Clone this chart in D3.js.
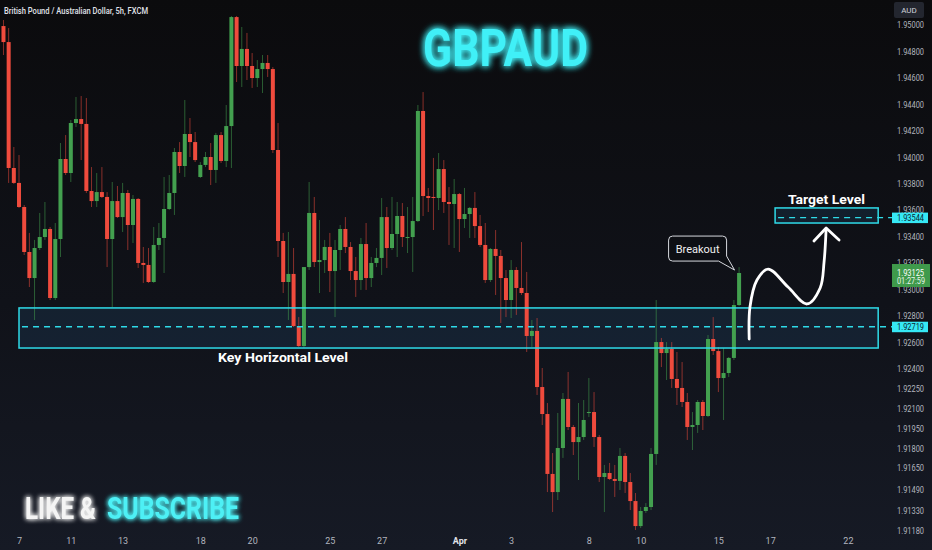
<!DOCTYPE html>
<html>
<head>
<meta charset="utf-8">
<script src="https://cdn.jsdelivr.net/npm/d3@7"></script>
<style>
html, body { margin: 0; padding: 0; background: #0e0f13; }
svg { display: block; }
</style>
</head>
<body>
<svg id="chart" width="932" height="550"></svg>
<script>
// GBPAUD 5h candles
var opens = [1.94992,1.94871,1.93919,1.93806,1.93624,1.93284,1.93087,1.93314,1.93397,1.93458,
	1.92936,1.93382,1.93987,1.93881,1.94259,1.94289,1.94252,1.93745,1.93669,1.93737,
	1.93700,1.93382,1.93669,1.93548,1.93730,1.93488,1.93685,1.93201,1.93186,1.93057,
	1.93337,1.93390,1.93609,1.93730,1.94040,1.93934,1.94176,1.94115,1.93851,1.93942,
	1.94002,1.93904,1.94168,1.93972,1.94236,1.95060,1.94690,1.94819,1.94690,1.94599,
	1.94667,1.94713,1.94667,1.94055,1.93367,1.93057,1.93118,1.92724,1.92573,1.93170,
	1.93579,1.93208,1.93223,1.93322,1.93140,1.93299,1.93458,1.93322,1.93140,1.93072,
	1.93344,1.93087,1.93201,1.93239,1.93548,1.93314,1.93420,1.93556,1.93390,1.93397,
	1.93518,1.94350,1.93707,1.93700,1.93692,1.93911,1.93662,1.93647,1.93722,1.93533,
	1.93571,1.93617,1.93480,1.93337,1.93072,1.93307,1.93254,1.93087,1.92921,1.93148,
	1.93012,1.92974,1.92649,1.92687,1.92263,1.92059,1.91606,1.91469,1.91802,1.92173,
	1.91961,1.91847,1.91885,1.92067,1.92074,1.91885,1.91583,1.91613,1.91568,1.91553,
	1.91742,1.91545,1.91401,1.91212,1.91326,1.91356,1.91757,1.92603,1.92520,1.92551,
	1.92324,1.92256,1.92150,1.91961,1.91976,1.92150,1.92044,1.92626,1.92535,1.92331,
	1.92369,1.92483,1.92883];
var highs = [1.95038,1.94977,1.94078,1.94017,1.93639,1.93428,1.93375,1.93579,1.93662,1.93473,
	1.93503,1.94108,1.94168,1.94282,1.94456,1.94463,1.94448,1.93926,1.93881,1.93926,
	1.93737,1.93813,1.93783,1.93806,1.93753,1.93715,1.93692,1.93322,1.93314,1.93473,
	1.93503,1.93851,1.93866,1.94070,1.94115,1.94433,1.94297,1.94191,1.93964,1.94040,
	1.94108,1.94184,1.94191,1.94395,1.95068,1.95068,1.94985,1.94940,1.94788,1.94735,
	1.94773,1.94773,1.94682,1.94259,1.93428,1.93435,1.93314,1.92792,1.93170,1.93813,
	1.93700,1.93526,1.93375,1.93428,1.93375,1.93488,1.93548,1.93359,1.93246,1.93390,
	1.93503,1.93246,1.93314,1.93692,1.93624,1.93700,1.93662,1.93654,1.93624,1.93700,
	1.94395,1.94493,1.93768,1.93995,1.94032,1.93979,1.93775,1.93836,1.93730,1.93768,
	1.93624,1.93737,1.93564,1.93503,1.93314,1.93450,1.93299,1.93148,1.93223,1.93170,
	1.93359,1.93133,1.92770,1.92785,1.92407,1.92142,1.91764,1.92067,1.92218,1.92377,
	1.91976,1.92142,1.92165,1.92331,1.92225,1.91900,1.91674,1.91689,1.91674,1.91802,
	1.91764,1.91613,1.91462,1.91356,1.91386,1.91802,1.92921,1.92634,1.92603,1.92603,
	1.92528,1.92452,1.92218,1.92074,1.92165,1.92165,1.92656,1.92792,1.92566,1.92558,
	1.92490,1.92921,1.93170];
var lows = [1.94773,1.93806,1.93798,1.93617,1.93261,1.93019,1.92770,1.93299,1.93375,1.92921,
	1.92921,1.93246,1.93866,1.93813,1.94229,1.93979,1.93730,1.93624,1.93624,1.93692,
	1.93170,1.92868,1.93541,1.93435,1.93299,1.93352,1.93163,1.93050,1.93050,1.93050,
	1.93299,1.93125,1.93601,1.93564,1.93881,1.93851,1.94002,1.93964,1.93843,1.93926,
	1.93790,1.93806,1.93957,1.93926,1.93919,1.94569,1.94531,1.94584,1.94524,1.94531,
	1.94486,1.94607,1.94032,1.93246,1.92974,1.92770,1.92717,1.92566,1.92558,1.93148,
	1.93170,1.92974,1.93125,1.92981,1.92792,1.93148,1.93276,1.93072,1.92944,1.92997,
	1.92997,1.93019,1.93170,1.93110,1.93163,1.93299,1.93246,1.93322,1.93276,1.93133,
	1.93511,1.93556,1.93586,1.93450,1.93601,1.93579,1.93337,1.93314,1.93284,1.93465,
	1.93390,1.93390,1.93322,1.93050,1.93057,1.92959,1.92747,1.92792,1.92785,1.92808,
	1.92959,1.92528,1.92566,1.92203,1.91976,1.91469,1.91318,1.91409,1.91727,1.91938,
	1.91749,1.91560,1.91863,1.92036,1.91810,1.91545,1.91318,1.91560,1.91432,1.91485,
	1.91462,1.91333,1.91182,1.91197,1.91311,1.91333,1.91674,1.92414,1.92316,1.92256,
	1.92127,1.92112,1.91863,1.91787,1.91916,1.91938,1.92036,1.92505,1.92225,1.92014,
	1.92339,1.92467,1.92876];
var closes = [1.94871,1.93919,1.93806,1.93624,1.93284,1.93087,1.93314,1.93397,1.93458,1.92936,
	1.93382,1.93987,1.93881,1.94259,1.94289,1.94252,1.93745,1.93669,1.93737,1.93700,
	1.93382,1.93669,1.93548,1.93730,1.93488,1.93685,1.93201,1.93186,1.93057,1.93337,
	1.93390,1.93609,1.93730,1.94040,1.93934,1.94176,1.94115,1.93979,1.93942,1.94002,
	1.93904,1.94168,1.93972,1.94236,1.95060,1.94690,1.94819,1.94690,1.94599,1.94667,
	1.94713,1.94667,1.94055,1.93367,1.93057,1.93118,1.92724,1.92573,1.93170,1.93579,
	1.93208,1.93223,1.93322,1.93140,1.93299,1.93458,1.93322,1.93140,1.93072,1.93344,
	1.93087,1.93201,1.93239,1.93548,1.93314,1.93420,1.93556,1.93397,1.93397,1.93518,
	1.94350,1.93707,1.93692,1.93692,1.93911,1.93662,1.93647,1.93722,1.93533,1.93571,
	1.93617,1.93480,1.93337,1.93072,1.93307,1.93254,1.93087,1.92921,1.93148,1.93012,
	1.92974,1.92649,1.92687,1.92263,1.92059,1.91606,1.91469,1.91802,1.92173,1.91961,
	1.91847,1.91885,1.92014,1.92074,1.91885,1.91583,1.91613,1.91568,1.91553,1.91742,
	1.91545,1.91401,1.91212,1.91326,1.91356,1.91757,1.92603,1.92520,1.92551,1.92324,
	1.92256,1.92150,1.91961,1.91976,1.92150,1.92044,1.92626,1.92535,1.92331,1.92369,
	1.92483,1.92883,1.93125];

// trading days counted from 7 March (weekends skipped), 5 bars a day
var firstBarDay = -0.6;
var barStep = 0.2;

var xTickDays = [0, 2, 4, 7, 9, 12, 14, 17, 19, 22, 24, 27, 29, 32];
var xTickLabels = ["7", "11", "13", "18", "20", "25", "27", "Apr", "3", "8", "10", "15", "17", "22"];
var yTickValues = [1.95, 1.948, 1.946, 1.944, 1.942, 1.94, 1.938, 1.936, 1.934, 1.932, 1.93,
	1.928, 1.926, 1.924, 1.9225, 1.921, 1.9195, 1.918, 1.9165, 1.9149, 1.9133, 1.9118];

var keyLevelPrices = [1.92861, 1.92719, 1.92558];   // top, line, bottom
var keyLevelDays = [0, 33.17];
var targetPrices = [1.93617, 1.93544, 1.93503];
var targetDays = [29.19, 33.17];
var lastPrice = 1.93125;
var countdown = "01:27:59";

var arrowDays = [28.19, 28.22, 28.49, 28.92, 29.69, 30.42, 30.93, 31.08, 31.16];
var arrowPrices = [1.92626, 1.92868, 1.93072, 1.93155, 1.93019, 1.92891, 1.93012, 1.93208, 1.93458];
var arrowHeadDays = [30.69, 31.16, 31.66];
var arrowHeadPrices = [1.93367, 1.93465, 1.93375];

var cyan = "#2fdbe8";
var upColor = "#43a04f";
var downColor = "#ef4b3d";

var svg = d3.select("#chart");
var x = d3.scaleLinear().domain([-0.734, 33.24]).range([0, 880]);
var y = d3.scaleLinear().domain([1.95189, 1.91031]).range([0, 550]);

var defs = svg.append("defs");
var bg = defs.append("linearGradient").attr("id", "bg").attr("x1", 0).attr("y1", 0).attr("x2", 0).attr("y2", 1);
bg.append("stop").attr("offset", "0%").attr("stop-color", "#0b0b0d");
bg.append("stop").attr("offset", "55%").attr("stop-color", "#101219");
bg.append("stop").attr("offset", "100%").attr("stop-color", "#161a25");

function glow(id, dev) {
	var f = defs.append("filter").attr("id", id)
		.attr("x", "-20%").attr("y", "-50%").attr("width", "140%").attr("height", "200%");
	f.append("feGaussianBlur").attr("in", "SourceGraphic").attr("stdDeviation", dev).attr("result", "b");
	var m = f.append("feMerge");
	m.append("feMergeNode").attr("in", "b");
	m.append("feMergeNode").attr("in", "b");
	m.append("feMergeNode").attr("in", "SourceGraphic");
}
glow("glow", 3.5);
glow("glowSoft", 2.5);

svg.append("rect").attr("width", 932).attr("height", 550).attr("fill", "url(#bg)");

// key level zone fill
svg.append("rect")
	.attr("x", x(keyLevelDays[0]))
	.attr("y", y(keyLevelPrices[0]))
	.attr("width", x(keyLevelDays[1]) - x(keyLevelDays[0]))
	.attr("height", y(keyLevelPrices[2]) - y(keyLevelPrices[0]))
	.attr("fill", "rgba(45,110,170,0.16)");

var candles = opens.map(function (o, i) {
	return { day: firstBarDay + i * barStep, open: o, high: highs[i], low: lows[i], close: closes[i] };
});

var bars = svg.append("g").selectAll("g").data(candles).enter().append("g");
bars.append("line")
	.attr("x1", function (d) { return x(d.day); })
	.attr("x2", function (d) { return x(d.day); })
	.attr("y1", function (d) { return y(d.high); })
	.attr("y2", function (d) { return y(d.low); })
	.attr("stroke", function (d) { return d.close >= d.open ? upColor : downColor; })
	.attr("stroke-opacity", 0.55)
	.attr("stroke-width", 1);
bars.append("rect")
	.attr("x", function (d) { return x(d.day) - 2; })
	.attr("width", 4)
	.attr("y", function (d) { return y(Math.max(d.open, d.close)); })
	.attr("height", function (d) { return Math.max(1, Math.abs(y(d.open) - y(d.close))); })
	.attr("fill", function (d) { return d.close >= d.open ? upColor : downColor; });

// zone outlines and dashed levels
function zone(days, prices) {
	svg.append("rect")
		.attr("x", x(days[0]))
		.attr("y", y(prices[0]))
		.attr("width", x(days[1]) - x(days[0]))
		.attr("height", y(prices[2]) - y(prices[0]))
		.attr("fill", "none")
		.attr("stroke", cyan)
		.attr("stroke-width", 1.5);
	svg.append("line")
		.attr("x1", x(days[0]) + 3).attr("x2", 892)
		.attr("y1", y(prices[1])).attr("y2", y(prices[1]))
		.attr("stroke", cyan)
		.attr("stroke-width", 1.4)
		.attr("stroke-dasharray", "6,5");
}
zone(keyLevelDays, keyLevelPrices);
svg.append("rect")
	.attr("x", x(targetDays[0]))
	.attr("y", y(targetPrices[0]))
	.attr("width", x(targetDays[1]) - x(targetDays[0]))
	.attr("height", y(targetPrices[2]) - y(targetPrices[0]))
	.attr("fill", "rgba(45,110,170,0.16)");
zone(targetDays, targetPrices);

// curved projection arrow
var arrowLine = d3.line()
	.x(function (d) { return x(d[0]); })
	.y(function (d) { return y(d[1]); })
	.curve(d3.curveCatmullRom.alpha(0.5));
svg.append("path")
	.attr("d", arrowLine(arrowDays.map(function (d, i) { return [d, arrowPrices[i]]; })))
	.attr("fill", "none").attr("stroke", "#ffffff").attr("stroke-width", 2.8)
	.attr("stroke-linecap", "round");
svg.append("path")
	.attr("d", d3.line().x(function (d) { return x(d[0]); }).y(function (d) { return y(d[1]); })(
		arrowHeadDays.map(function (d, i) { return [d, arrowHeadPrices[i]]; })))
	.attr("fill", "none").attr("stroke", "#ffffff").attr("stroke-width", 2.8)
	.attr("stroke-linecap", "round").attr("stroke-linejoin", "round");

// breakout callout on the last bar
var last = candles[candles.length - 1];
var tipX = x(last.day) - 4.5, tipY = y(last.high) + 3;
var boxL = tipX - 66, boxR = tipX - 8, boxT = tipY - 34, boxB = tipY - 9;
svg.append("path")
	.attr("d", "M" + (boxL + 4) + "," + boxT + "H" + (boxR - 4) + "Q" + boxR + "," + boxT + " " + boxR + "," + (boxT + 4) +
		"V" + (boxB - 5) + "L" + tipX + "," + tipY + "L" + (boxR - 8) + "," + boxB +
		"H" + (boxL + 4) + "Q" + boxL + "," + boxB + " " + boxL + "," + (boxB - 4) +
		"V" + (boxT + 4) + "Q" + boxL + "," + boxT + " " + (boxL + 4) + "," + boxT + "Z")
	.attr("fill", "#0d0f14").attr("stroke", "#d6d8de").attr("stroke-width", 1);
svg.append("text")
	.attr("x", (boxL + boxR) / 2).attr("y", (boxT + boxB) / 2 + 4)
	.attr("text-anchor", "middle")
	.attr("font-family", "Roboto, sans-serif").attr("font-size", 11)
	.attr("fill", "#f0f0f0")
	.text("Breakout");

// labels
svg.append("text")
	.attr("x", 218).attr("y", 362)
	.attr("font-family", "Roboto, sans-serif").attr("font-weight", 700).attr("font-size", 13)
	.attr("textLength", 130).attr("lengthAdjust", "spacingAndGlyphs")
	.attr("fill", "#ffffff").text("Key Horizontal Level");
svg.append("text")
	.attr("x", 788).attr("y", 204)
	.attr("font-family", "Roboto, sans-serif").attr("font-weight", 700).attr("font-size", 13)
	.attr("textLength", 77).attr("lengthAdjust", "spacingAndGlyphs")
	.attr("fill", "#ffffff").text("Target Level");

svg.append("text")
	.attr("x", 4).attr("y", 14)
	.attr("font-family", "Roboto, sans-serif").attr("font-weight", 500).attr("font-size", 9)
	.attr("textLength", 144).attr("lengthAdjust", "spacingAndGlyphs")
	.attr("fill", "#e0e3ea").text("British Pound / Australian Dollar, 5h, FXCM");

svg.append("text")
	.attr("x", 423).attr("y", 66)
	.attr("font-family", "Roboto, sans-serif").attr("font-weight", 700).attr("font-size", 52)
	.attr("textLength", 165).attr("lengthAdjust", "spacingAndGlyphs")
	.attr("fill", "#3ff0f7").attr("filter", "url(#glow)").text("GBPAUD");

svg.append("text")
	.attr("x", 25).attr("y", 519)
	.attr("font-family", "Roboto, sans-serif").attr("font-weight", 700).attr("font-size", 31)
	.attr("textLength", 71).attr("lengthAdjust", "spacingAndGlyphs")
	.attr("fill", "#f4f4f4").attr("filter", "url(#glowSoft)").text("LIKE &");
svg.append("text")
	.attr("x", 107).attr("y", 519)
	.attr("font-family", "Roboto, sans-serif").attr("font-weight", 700).attr("font-size", 31)
	.attr("textLength", 132).attr("lengthAdjust", "spacingAndGlyphs")
	.attr("fill", "#4ef0f5").attr("filter", "url(#glowSoft)").text("SUBSCRIBE");

// axes
var xAxis = svg.append("g")
	.attr("transform", "translate(0,535)")
	.call(d3.axisBottom(x).tickValues(xTickDays).tickSize(0).tickPadding(3)
		.tickFormat(function (d, i) { return xTickLabels[i]; }));
xAxis.select(".domain").remove();
xAxis.selectAll("text")
	.attr("font-family", "Roboto, sans-serif").attr("font-size", 9)
	.attr("fill", "#b2b5be")
	.filter(function (d, i) { return xTickLabels[i] === "Apr"; })
	.attr("font-weight", 700).attr("fill", "#e0e3ea");

var yAxis = svg.append("g")
	.attr("transform", "translate(892,0)")
	.call(d3.axisRight(y).tickValues(yTickValues).tickSize(0).tickPadding(5)
		.tickFormat(d3.format(".5f")));
yAxis.select(".domain").remove();
yAxis.selectAll("text")
	.attr("font-family", "Roboto, sans-serif").attr("font-size", 8.5)
	.attr("textLength", 27).attr("lengthAdjust", "spacingAndGlyphs")
	.attr("fill", "#b2b5be");

svg.append("rect").attr("x", 894).attr("y", 2).attr("width", 30).attr("height", 16).attr("rx", 2)
	.attr("fill", "#23262f");
svg.append("text").attr("x", 909).attr("y", 13).attr("text-anchor", "middle")
	.attr("font-family", "Roboto, sans-serif").attr("font-size", 8).attr("fill", "#d1d4dc").text("AUD");

function priceLabel(price) {
	var yy = y(price);
	svg.append("rect").attr("x", 892).attr("y", yy - 5).attr("width", 36).attr("height", 10.5)
		.attr("fill", "#36e8f5");
	svg.append("text").attr("x", 897).attr("y", yy + 3.2)
		.attr("font-family", "Roboto, sans-serif").attr("font-size", 8.5)
		.attr("textLength", 27).attr("lengthAdjust", "spacingAndGlyphs")
		.attr("fill", "#0b2330").text(d3.format(".5f")(price));
}
priceLabel(targetPrices[1]);
priceLabel(keyLevelPrices[1]);

var ly = y(lastPrice);
svg.append("rect").attr("x", 892).attr("y", ly - 9).attr("width", 38).attr("height", 23)
	.attr("fill", "#3f9a4b");
svg.append("text").attr("x", 897).attr("y", ly + 2.5)
	.attr("font-family", "Roboto, sans-serif").attr("font-size", 8.5)
	.attr("textLength", 27).attr("lengthAdjust", "spacingAndGlyphs")
	.attr("fill", "#ffffff").text(d3.format(".5f")(lastPrice));
svg.append("text").attr("x", 897).attr("y", ly + 11)
	.attr("font-family", "Roboto, sans-serif").attr("font-size", 8.5)
	.attr("textLength", 28).attr("lengthAdjust", "spacingAndGlyphs")
	.attr("fill", "#e8f5e9").text(countdown);
</script>
</body>
</html>
